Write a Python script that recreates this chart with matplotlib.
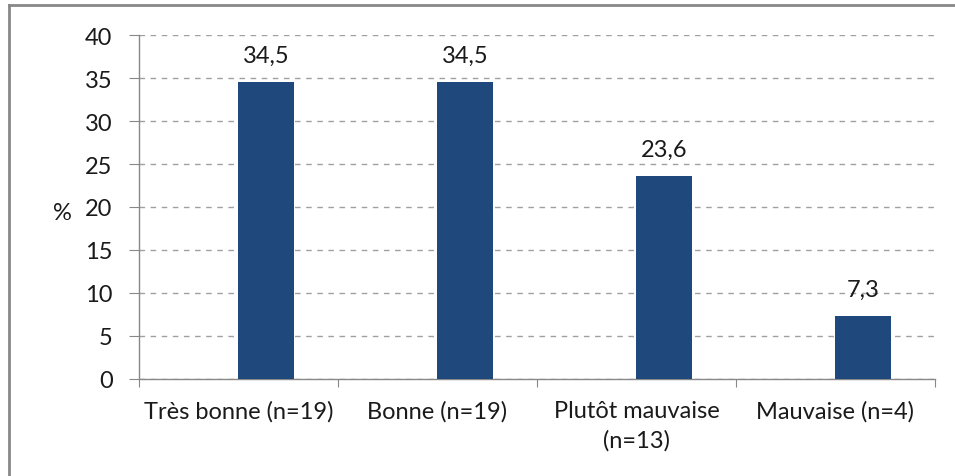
import matplotlib
matplotlib.use("Agg")
import matplotlib.pyplot as plt
from matplotlib.lines import Line2D

categories = ["Très bonne (n=19)", "Bonne (n=19)", "Plutôt mauvaise\n(n=13)", "Mauvaise (n=4)"]
values = [34.5, 34.5, 23.6, 7.3]
value_labels = ["34,5", "34,5", "23,6", "7,3"]
yticks = [0, 5, 10, 15, 20, 25, 30, 35, 40]

plt.rcParams['font.family'] = ['Lato', 'DejaVu Sans']
FS = 17
TXT = "#1a1a1a"

fig = plt.figure(figsize=(9.55, 4.77), dpi=100)
ax = fig.add_axes([0.1455, 0.2034, 0.8335, 0.7211])

x = list(range(len(categories)))
bw = 0.28
bars = ax.bar(x, values, width=bw, align="edge", color="#1F497D", zorder=3)
for xi, v, lab in zip(x, values, value_labels):
    ax.annotate(lab, (xi + bw / 2, v), xytext=(0, 12), textcoords="offset points",
                ha="center", va="bottom", fontsize=FS, color=TXT)

ax.set_xlim(-0.5, len(categories) - 0.5)
ax.set_ylim(0, 40)
ax.set_yticks(yticks)
ax.set_yticklabels([str(t) for t in yticks], fontsize=FS, color=TXT)
ax.yaxis.grid(True, linestyle=(0, (4, 4)), color="#a0a0a0", linewidth=1, zorder=0)
ax.set_axisbelow(True)

ax.set_xticks([i + 0.5 for i in range(-1, len(categories))], minor=False)
ax.set_xticklabels([])
ax.set_xticks(x, minor=True)
ax.set_xticklabels(categories, minor=True, fontsize=FS, color=TXT, linespacing=1.45)
ax.tick_params(axis="x", which="minor", length=0, pad=15)
ax.tick_params(axis="x", which="major", length=6, color="#888888", direction="out")
ax.tick_params(axis="y", length=7, color="#888888", direction="out", pad=12)

for s in ["top", "right"]:
    ax.spines[s].set_visible(False)
for s in ["left", "bottom"]:
    ax.spines[s].set_color("#888888")
    ax.spines[s].set_linewidth(1)

fig.text(62 / 955, 1 - 214 / 477, "%", ha="center", va="center", fontsize=FS, color=TXT)

# figure frame (top and left border lines)
fig.add_artist(Line2D([8.5/955, 1], [1 - 6/477, 1 - 6/477], transform=fig.transFigure, color="#888888", linewidth=2))
fig.add_artist(Line2D([8.5/955, 8.5/955], [0, 1 - 6/477], transform=fig.transFigure, color="#888888", linewidth=2))

fig.savefig("out.png", dpi=100)
